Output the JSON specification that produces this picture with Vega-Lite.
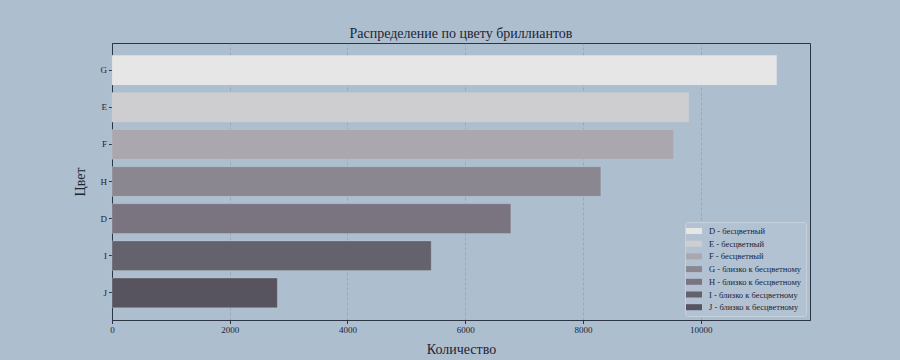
{
  "$schema": "https://vega.github.io/schema/vega-lite/v6.json",
  "width": 698,
  "height": 277,
  "autosize": {"type": "none"},
  "padding": {"left": 112, "top": 43, "right": 90, "bottom": 40},
  "background": "#adbecf",
  "title": {
    "text": "Распределение по цвету бриллиантов",
    "font": "Liberation Serif",
    "fontSize": 14,
    "fontWeight": "normal",
    "color": "#1c2535",
    "offset": 2
  },
  "config": {
    "view": {"stroke": "#2b3545", "strokeWidth": 1},
    "font": "Liberation Serif"
  },
  "data": {
    "values": [
      {"color": "G", "count": 11292, "legend": "D - бесцветный"},
      {"color": "E", "count": 9797, "legend": "E - бесцветный"},
      {"color": "F", "count": 9542, "legend": "F - бесцветный"},
      {"color": "H", "count": 8304, "legend": "G - близко к бесцветному"},
      {"color": "D", "count": 6775, "legend": "H - близко к бесцветному"},
      {"color": "I", "count": 5422, "legend": "I - близко к бесцветному"},
      {"color": "J", "count": 2808, "legend": "J - близко к бесцветному"}
    ]
  },
  "mark": {"type": "bar", "stroke": "#c9d2dc", "strokeWidth": 0.5, "strokeOpacity": 0.6},
  "encoding": {
    "y": {
      "field": "color",
      "type": "nominal",
      "sort": ["G", "E", "F", "H", "D", "I", "J"],
      "scale": {"paddingInner": 0.2, "paddingOuter": 0.33},
      "axis": {
        "title": "Цвет",
        "titleFont": "Liberation Serif",
        "titleFontSize": 14,
        "titleFontWeight": "normal",
        "titleColor": "#1c2535",
        "titlePadding": 13,
        "labelFont": "Liberation Serif",
        "labelFontSize": 9,
        "labelColor": "#1c2535",
        "labelPadding": 2,
        "tickColor": "#2b3545",
        "tickSize": 3.5,
        "domainColor": "#2b3545",
        "grid": false
      }
    },
    "x": {
      "field": "count",
      "type": "quantitative",
      "scale": {"domain": [0, 11856], "nice": false, "zero": true},
      "axis": {
        "title": "Количество",
        "values": [0, 2000, 4000, 6000, 8000, 10000],
        "format": "d",
        "labelFlush": false,
        "titleFont": "Liberation Serif",
        "titleFontSize": 14,
        "titleFontWeight": "normal",
        "titleColor": "#1c2535",
        "titlePadding": 8,
        "labelFont": "Liberation Serif",
        "labelFontSize": 9,
        "labelColor": "#1c2535",
        "labelPadding": 2,
        "tickColor": "#2b3545",
        "tickSize": 3.5,
        "domainColor": "#2b3545",
        "grid": true,
        "gridColor": "#7f8a99",
        "gridDash": [3, 2],
        "gridWidth": 0.6,
        "gridOpacity": 0.7
      }
    },
    "color": {
      "field": "legend",
      "type": "nominal",
      "scale": {
        "domain": ["D - бесцветный", "E - бесцветный", "F - бесцветный", "G - близко к бесцветному", "H - близко к бесцветному", "I - близко к бесцветному", "J - близко к бесцветному"],
        "range": ["#e6e6e6", "#cecdd0", "#aaa7ae", "#8a8791", "#79747f", "#64626c", "#58545f"]
      },
      "legend": {
        "title": null,
        "orient": "bottom-right",
        "offset": 4,
        "padding": 4,
        "fillColor": "#b2c2d2",
        "strokeColor": "#c6d1dc",
        "cornerRadius": 2,
        "symbolType": "M-1.6,-0.6L1.6,-0.6L1.6,0.6L-1.6,0.6Z",
        "symbolSize": 100,
        "symbolStrokeWidth": 0,
        "symbolOpacity": 1,
        "labelFont": "Liberation Serif",
        "labelFontSize": 8.5,
        "labelColor": "#1c2535",
        "labelOffset": 10,
        "labelLimit": 200,
        "rowPadding": 2.7
      }
    }
  }
}
